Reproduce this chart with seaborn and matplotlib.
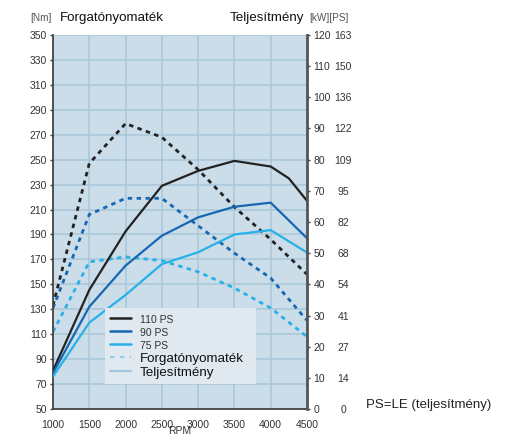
import matplotlib
matplotlib.use("Agg")
import matplotlib.pyplot as plt
from matplotlib.lines import Line2D
import seaborn as sns
import pandas as pd

# ---- data ----
rpm = [1000, 1500, 2000, 2500, 3000, 3500, 4000, 4500]
torque_110 = [133, 247, 279, 268, 242, 212, 186, 158]
torque_90 = [131, 206, 219, 219, 197, 175, 155, 121]
torque_75 = [112, 168, 172, 169, 160, 147, 131, 108]

rpm_p110 = [1000, 1500, 2000, 2500, 3000, 3500, 4000, 4250, 4500]
power_110 = [12.3, 38.2, 57.0, 71.6, 76.4, 79.6, 77.8, 74.0, 66.8]
power_90 = [11.5, 32.8, 46.0, 55.6, 61.5, 64.9, 66.2, 54.8]
power_75 = [10.4, 27.7, 36.6, 46.5, 50.3, 56.0, 57.4, 50.2]

nm_ticks = list(range(50, 351, 20))
kw_ticks = list(range(0, 121, 10))
ps_labels = ["0", "14", "27", "41", "54", "68", "82", "95", "109", "122", "136", "150", "163"]
rpm_ticks = list(range(1000, 4501, 500))
series_labels = ["110 PS", "90 PS", "75 PS"]
kind_labels = ["Forgatónyomaték", "Teljesítmény"]

# ---- style ----
sns.set_style("white")
plt.rcParams["font.family"] = ["Liberation Sans", "DejaVu Sans"]

c_black = "#222222"
c_dark = "#1767b3"
c_light = "#27b1e8"
c_bg = "#cbdde8"
c_grid = "#a9c6d8"
c_txt = "#333333"

W, H = 509, 436
fig = plt.figure(figsize=(W / 100, H / 100), dpi=100)
ax = fig.add_axes([53 / W, 1 - 409 / H, (307 - 53) / W, (409 - 35) / H])
ax.set_facecolor(c_bg)

ax.set_xlim(1000, 4500)
ax.set_ylim(50, 350)
ax.set_xticks(rpm_ticks)
ax.set_yticks(nm_ticks)
ax.grid(True, color=c_grid, lw=1.1)
ax.set_axisbelow(True)

colors = [c_black, c_dark, c_light]
dash = (0, (1.6, 1.6))
for t, c in zip([torque_110, torque_90, torque_75], colors):
    df = pd.DataFrame({"rpm": rpm, "v": t})
    sns.lineplot(data=df, x="rpm", y="v", ax=ax, color=c, lw=2.0,
                 linestyle=dash, legend=False)
ax.set_xlabel("")
ax.set_ylabel("")

ax2 = ax.twinx()
ax2.set_ylim(0, 120)
ax2.set_xlim(1000, 4500)
for xs, p, c in zip([rpm_p110, rpm, rpm], [power_110, power_90, power_75], colors):
    df = pd.DataFrame({"rpm": xs, "v": p})
    sns.lineplot(data=df, x="rpm", y="v", ax=ax2, color=c, lw=1.6, legend=False)
ax2.set_ylabel("")
ax2.set_xlabel("")
ax2.set_yticks(kw_ticks)
ax2.set_yticklabels([str(k) for k in kw_ticks])

ax3 = ax.twinx()
ax3.set_ylim(0, 120)
ax3.set_yticks(kw_ticks)
ax3.set_yticklabels(ps_labels)
for s in ax3.spines.values():
    s.set_visible(False)
ax3.tick_params(axis="y", length=0, pad=26, labelsize=7.5, labelcolor=c_txt)
for lab in ax3.get_yticklabels():
    lab.set_horizontalalignment("center")

# spines
for a in (ax, ax2):
    a.spines["top"].set_visible(False)
ax.spines["right"].set_visible(False)
ax2.spines["left"].set_visible(False)
ax2.spines["bottom"].set_visible(False)
ax.spines["left"].set_color("#444444")
ax.spines["left"].set_linewidth(1.3)
ax.spines["bottom"].set_color("#444444")
ax.spines["bottom"].set_linewidth(1.3)
ax2.spines["right"].set_color("#555555")
ax2.spines["right"].set_linewidth(2.0)

ax.tick_params(axis="y", length=2.5, width=1, color="#444444", pad=2,
               labelsize=7.5, labelcolor=c_txt)
ax.tick_params(axis="x", length=0, pad=8, labelsize=7.5, labelcolor=c_txt)
ax2.tick_params(axis="y", length=2.5, width=1, color="#444444", pad=2,
                labelsize=7.5, labelcolor=c_txt)

# legend
handles = [
    Line2D([], [], color=c_black, lw=1.8),
    Line2D([], [], color=c_dark, lw=1.8),
    Line2D([], [], color=c_light, lw=1.8),
    Line2D([], [], color="#96cbe6", lw=1.6, linestyle=(0, (2, 2.5))),
    Line2D([], [], color="#a2c5dc", lw=1.6),
]
leg = ax3.legend(handles, series_labels + kind_labels,
                 loc="lower left", bbox_to_anchor=(0.205, 0.067, 0.594, 0.195),
                 mode="expand", frameon=True, fancybox=False,
                 facecolor="#e0e9f0", edgecolor="none", framealpha=1,
                 handlelength=1.55, handletextpad=0.6, labelspacing=0.1,
                 borderpad=0.35, borderaxespad=0)
for i, txt in enumerate(leg.get_texts()):
    if i < 3:
        txt.set_fontsize(7.5)
        txt.set_color(c_txt)
    else:
        txt.set_fontsize(9.6)
        txt.set_color("#111111")

# titles / annotations
def ft(x, y, s, size, color="#222222", ha="left"):
    fig.text(x / W, 1 - y / H, s, fontsize=size, color=color, ha=ha, va="center")

ft(30, 18, "[Nm]", 7.2, color="#555555")
ft(60, 18, "Forgatónyomaték", 9.6, color="#111111")
ft(304, 18, "Teljesítmény", 9.6, color="#111111", ha="right")
ft(309, 18, "[kW][PS]", 7.2, color="#555555")
ft(366, 405, "PS=LE (teljesítmény)", 9.5, color="#222222")
ft(180, 431, "RPM", 7.5, color=c_txt, ha="center")

fig.savefig("out.png", dpi=100)
